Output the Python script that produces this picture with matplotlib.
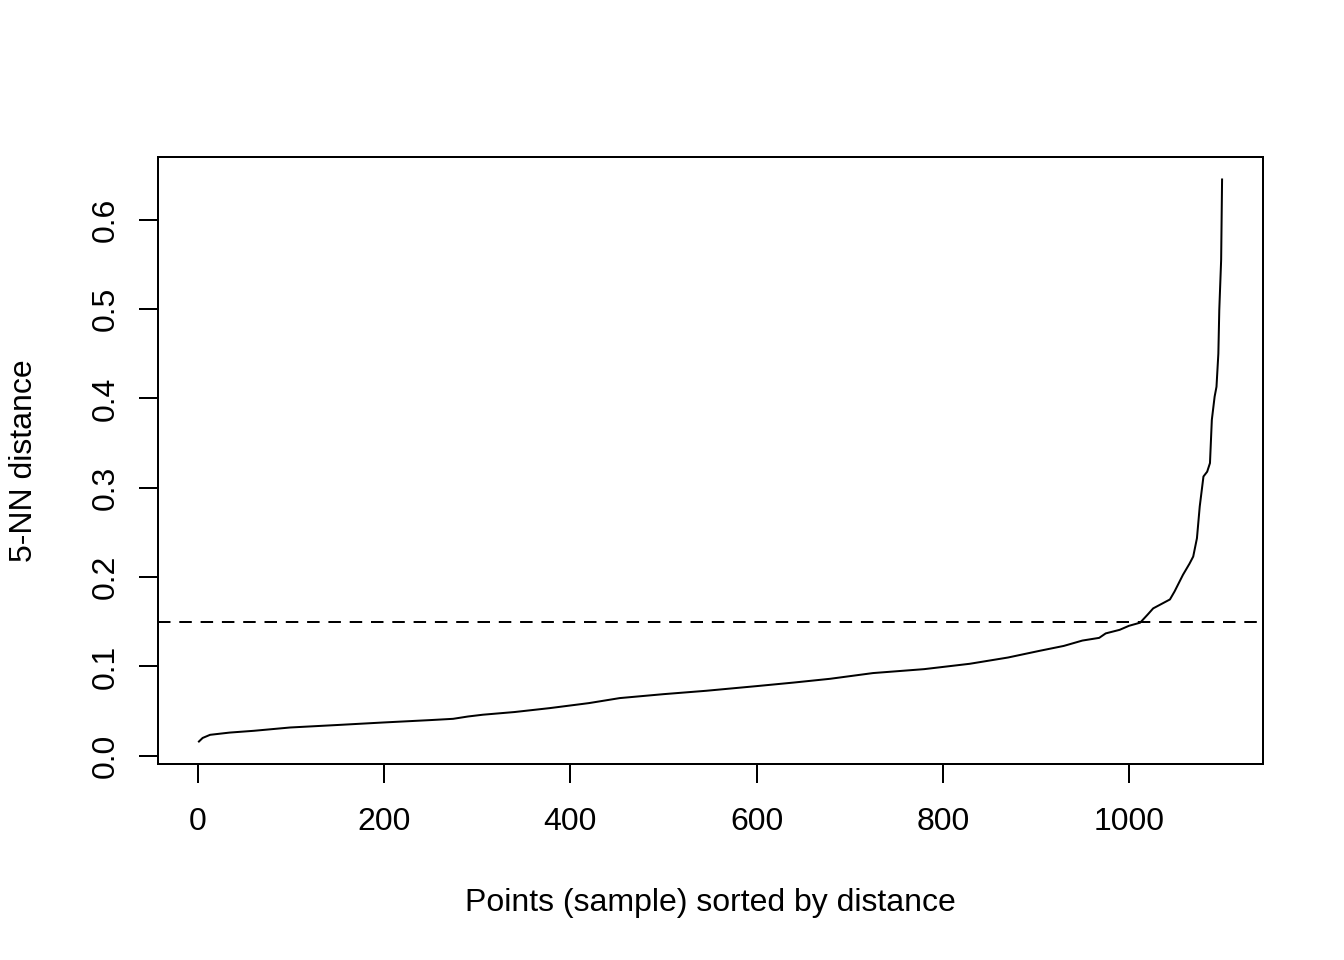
import matplotlib
matplotlib.use("Agg")
import matplotlib.pyplot as plt

# Sorted 5-NN distances, read at sample positions along the curve
point_index = [1, 5, 13, 34, 60, 99, 150, 199, 250, 274, 290, 306, 340, 378,
               420, 453, 500, 546, 600, 640, 679, 725, 780, 829, 870, 904,
               930, 950, 968, 975, 990, 1000, 1012, 1020, 1026, 1035, 1044,
               1049, 1058, 1065, 1069, 1073, 1076, 1080, 1084, 1087, 1089,
               1092, 1094, 1096, 1097, 1099, 1100]
knn_distance = [0.016, 0.020, 0.0235, 0.026, 0.028, 0.0317, 0.0345, 0.0373,
                0.040, 0.0414, 0.044, 0.046, 0.049, 0.0534, 0.059, 0.0646,
                0.069, 0.0728, 0.078, 0.082, 0.0862, 0.0926, 0.097, 0.103,
                0.110, 0.1175, 0.123, 0.129, 0.132, 0.137, 0.141, 0.1455,
                0.149, 0.158, 0.165, 0.170, 0.175, 0.184, 0.2026, 0.215,
                0.223, 0.2435, 0.279, 0.3126, 0.318, 0.3276, 0.376, 0.402,
                0.413, 0.45, 0.499, 0.555, 0.645]
eps_threshold = 0.15
n_points = 1100
x_ticks = [0, 200, 400, 600, 800, 1000]
y_ticks = [0.0, 0.1, 0.2, 0.3, 0.4, 0.5, 0.6]
x_label = "Points (sample) sorted by distance"
y_label = "5-NN distance"

plt.rcParams['font.family'] = ['Liberation Sans', 'DejaVu Sans']
plt.rcParams['font.size'] = 12

fig = plt.figure(figsize=(7, 5), dpi=192)
ax = fig.add_axes([158/1344, 1 - 764/960, (1263-158)/1344, (764-157)/960])

ax.plot(point_index, knn_distance, color='black', linewidth=0.75)
ax.axhline(eps_threshold, color='black', linewidth=0.75, linestyle=(0, (6.25, 4.4)))

# R-style 4% axis extension
xr = n_points - 1
ax.set_xlim(1 - 0.04*xr, n_points + 0.04*xr)
yr = max(knn_distance) - min(knn_distance)
ax.set_ylim(min(knn_distance) - 0.04*yr, max(knn_distance) + 0.04*yr)

ax.set_xticks(x_ticks)
ax.set_xticklabels([str(v) for v in x_ticks])
ax.set_yticks(y_ticks)
ax.set_yticklabels([f"{v:.1f}" for v in y_ticks], rotation=90, va='center')

ax.tick_params(direction='out', length=7, width=0.75, labelsize=12, color='black')
ax.tick_params(axis='x', pad=9)
ax.tick_params(axis='y', pad=7)
for s in ax.spines.values():
    s.set_linewidth(0.75)

ax.set_xlabel(x_label, fontsize=12)
ax.set_ylabel(y_label, fontsize=12)
ax.xaxis.set_label_coords(0.5, -(888 - 764) / (764 - 157))
ax.yaxis.set_label_coords(-(158 - 39) / (1263 - 158), 0.5)

fig.savefig("out.png", dpi=192)
